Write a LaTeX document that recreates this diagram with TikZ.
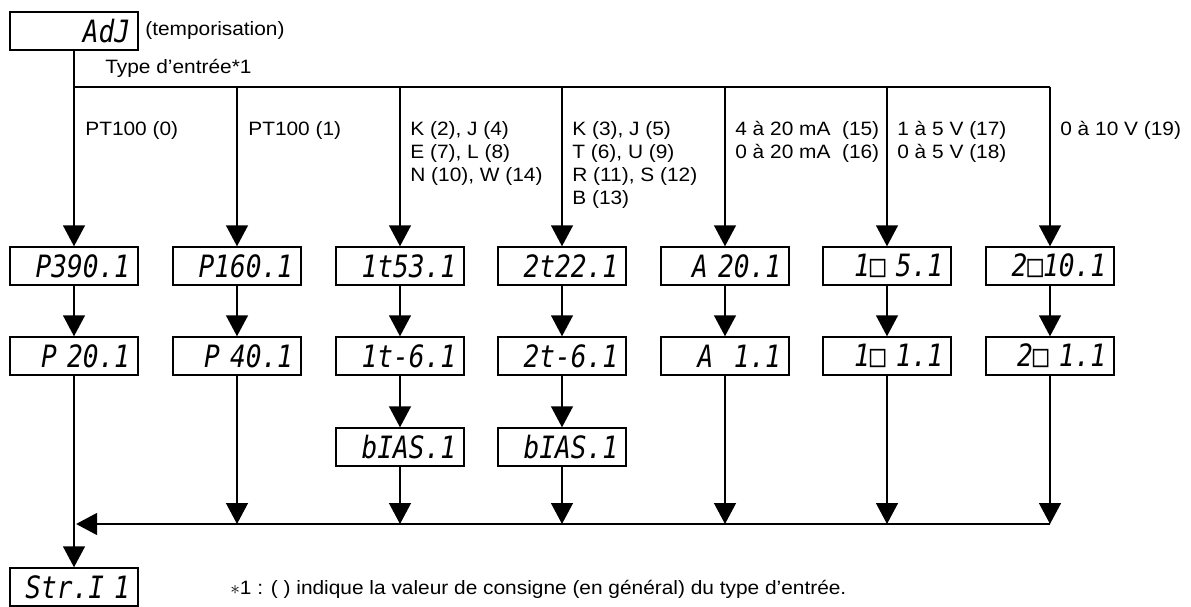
\documentclass[tikz,border=0pt]{standalone}
\usepackage{fontspec}
\setmainfont{Liberation Sans}[FakeStretch=1.08]
\newfontfamily\segfont{DejaVu Sans Mono}[FakeStretch=0.85]
\usetikzlibrary{arrows.meta}

\tikzset{
    disp/.style={draw, line width=0.8pt, minimum width=2.56cm,
        minimum height=0.76cm, inner xsep=0.16cm, text width=2.24cm,
        align=right, font=\segfont\itshape\fontsize{17.5}{17.5}\selectfont},
    lbl/.style={anchor=north west, align=left, inner sep=0pt,
        font=\fontsize{11}{13.2}\selectfont},
    txt/.style={anchor=west, inner sep=0pt, font=\fontsize{11}{13}\selectfont},
    flow/.style={line width=0.8pt, -{Triangle[width=0.44cm,length=0.42cm]}},
    wire/.style={line width=0.8pt},
}

\begin{document}
\begin{tikzpicture}[x=0.02cm, y=-0.02cm]

    \useasboundingbox (0,0) rectangle (1191,607);

    % display boxes
    \node [disp] (adj) at (74,31) {AdJ};
    \node [disp] (str) at (74,587) {Str.I~1};

    \node [disp] (p390) at (74,266) {P390.1};
    \node [disp] (p20)  at (74,356) {P~20.1};

    \node [disp] (p160) at (237,266) {P160.1};
    \node [disp] (p40)  at (237,356) {P~40.1};

    \node [disp] (k53)   at (400,266) {1t53.1};
    \node [disp] (k6)    at (400,356) {1t-6.1};
    \node [disp] (kbias) at (400,447) {bIAS.1};

    \node [disp] (t22)   at (562,266) {2t22.1};
    \node [disp] (t6)    at (562,356) {2t-6.1};
    \node [disp] (tbias) at (562,447) {bIAS.1};

    \node [disp] (a20) at (725,266) {A~20.1};
    \node [disp] (a1)  at (725,356) {A~~1.1};

    \node [disp] (v5) at (887,266) {1□~5.1};
    \node [disp] (v1) at (887,356) {1□~1.1};

    \node [disp] (w10) at (1050,266) {2□10.1};
    \node [disp] (w1)  at (1050,356) {2□~1.1};

    % texts
    \node [txt] (temp) at (145,31) {(temporisation)};
    \node [txt] (type) at (105,68) {Type d'entrée*1};
    \node [txt] (note) at (230,589)
        {$\ast$1 : ( ) indique la valeur de consigne (en général) du type d'entrée.};

    \node [lbl] (l1) at (85,121) {PT100 (0)};
    \node [lbl] (l2) at (248,121) {PT100 (1)};
    \node [lbl] (l3) at (410,121) {K (2), J (4)\\E (7), L (8)\\N (10), W (14)};
    \node [lbl] (l4) at (572,121) {K (3), J (5)\\T (6), U (9)\\R (11), S (12)\\B (13)};
    \node [lbl] (l5) at (735,121) {4 à 20 mA~~(15)\\0 à 20 mA~~(16)};
    \node [lbl] (l6) at (897,121) {1 à 5 V (17)\\0 à 5 V (18)};
    \node [lbl] (l7) at (1060,121) {0 à 10 V (19)};

    % bus points
    \coordinate (b1) at (74,87);
    \coordinate (b2) at (237,87);
    \coordinate (b3) at (400,87);
    \coordinate (b4) at (562,87);
    \coordinate (b5) at (725,87);
    \coordinate (b6) at (887,87);
    \coordinate (b7) at (1050,87);

    \coordinate (c1) at (74,524);
    \coordinate (c2) at (237,524);
    \coordinate (c3) at (400,524);
    \coordinate (c4) at (562,524);
    \coordinate (c5) at (725,524);
    \coordinate (c6) at (887,524);
    \coordinate (c7) at (1050,524);

    % input type bus
    \draw [wire] (b1) -- (b7);
    \draw [flow] (adj) -- (p390);
    \draw [flow] (b2) -- (p160);
    \draw [flow] (b3) -- (k53);
    \draw [flow] (b4) -- (t22);
    \draw [flow] (b5) -- (a20);
    \draw [flow] (b6) -- (v5);
    \draw [flow] (b7) -- (w10);

    % columns
    \draw [flow] (p390) -- (p20);
    \draw [flow] (p160) -- (p40);
    \draw [flow] (k53) -- (k6);
    \draw [flow] (k6) -- (kbias);
    \draw [flow] (t22) -- (t6);
    \draw [flow] (t6) -- (tbias);
    \draw [flow] (a20) -- (a1);
    \draw [flow] (v5) -- (v1);
    \draw [flow] (w10) -- (w1);

    % collector
    \draw [flow] (p40) -- (c2);
    \draw [flow] (kbias) -- (c3);
    \draw [flow] (tbias) -- (c4);
    \draw [flow] (a1) -- (c5);
    \draw [flow] (v1) -- (c6);
    \draw [flow] (w1) -- (c7);
    \draw [flow, shorten >=1.2pt] (c7) -- (c1);
    \draw [flow] (p20) -- (str);

\end{tikzpicture}
\end{document}
